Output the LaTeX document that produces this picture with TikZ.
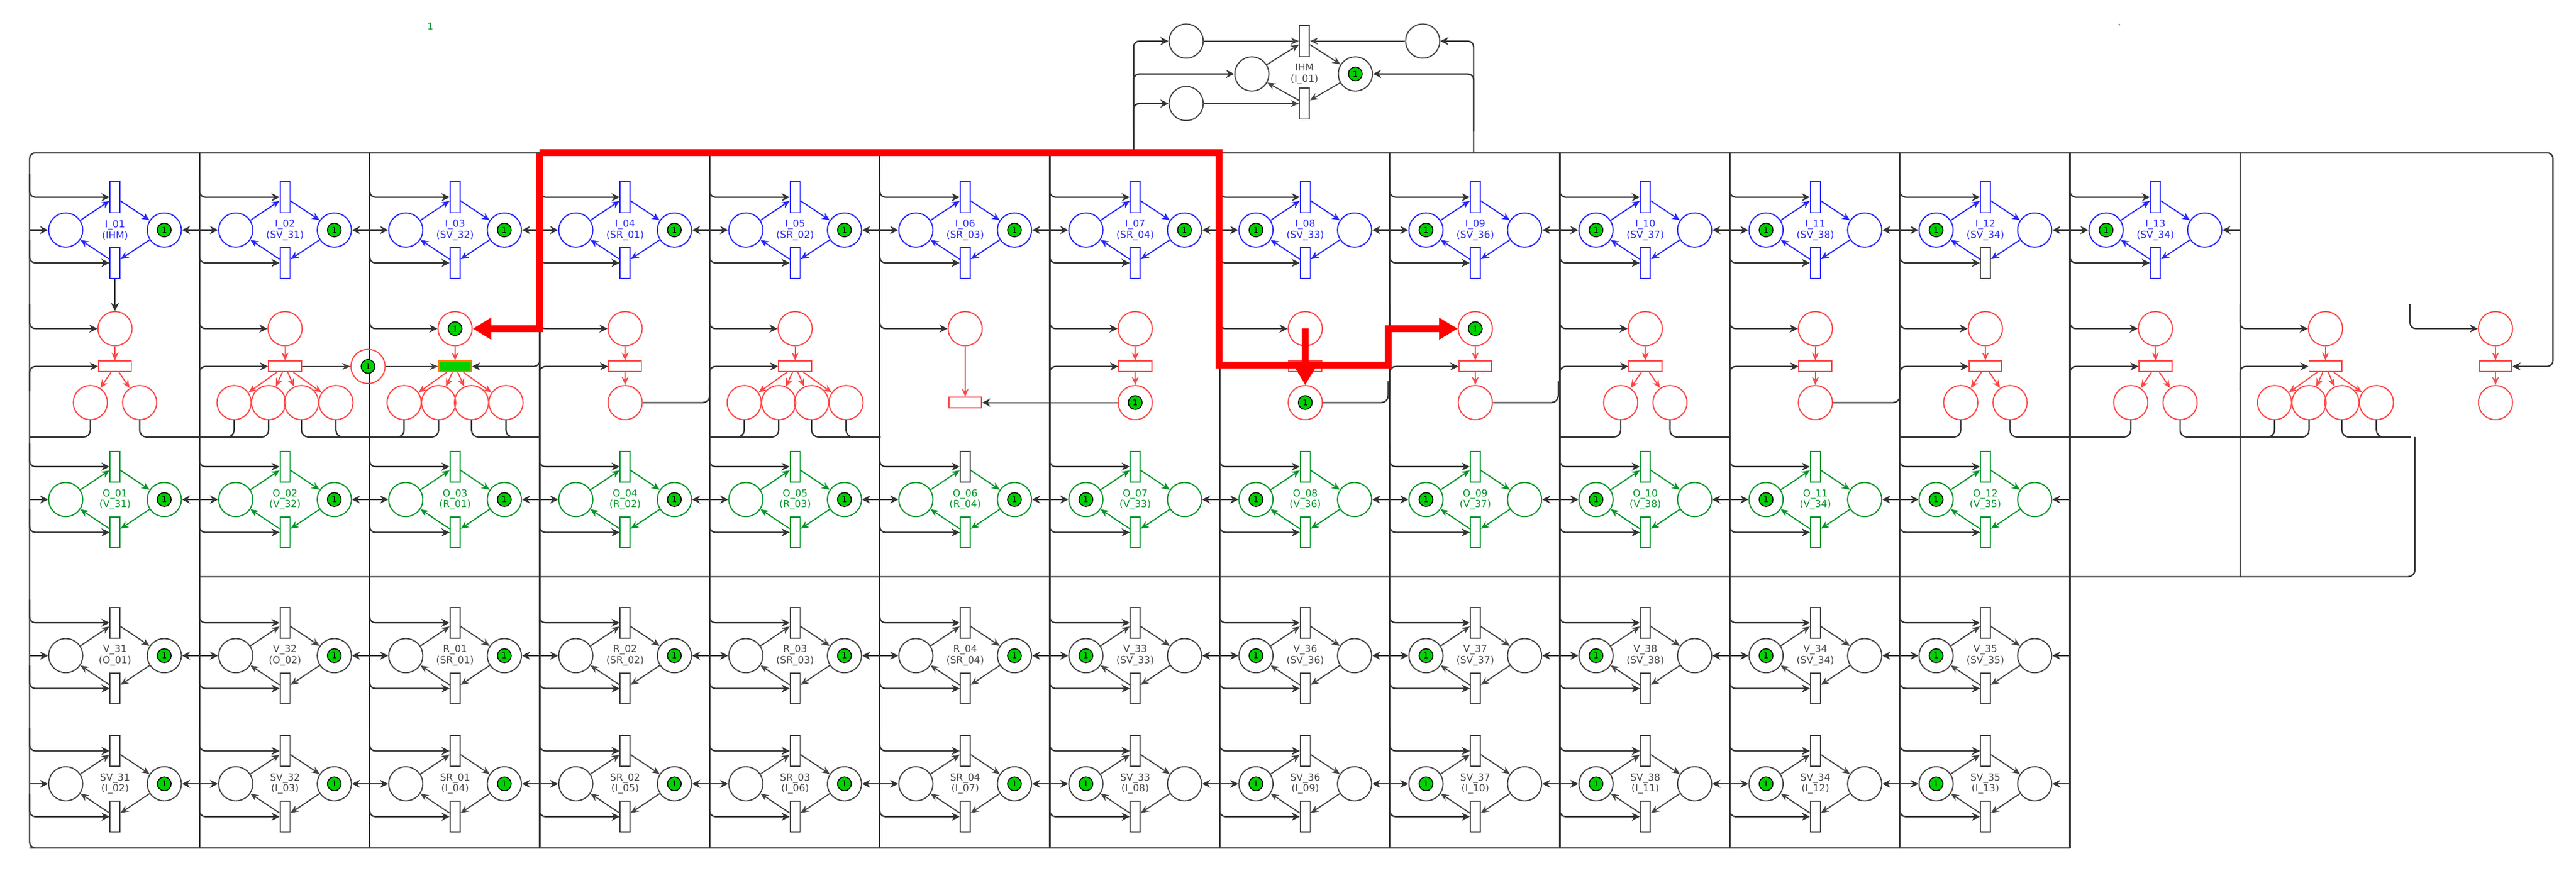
\documentclass[tikz,border=0pt]{standalone}
\usepackage{fontspec}
\setmainfont{DejaVu Sans}
\usetikzlibrary{arrows.meta}
\definecolor{bluepn}{RGB}{40,40,255}
\definecolor{redpn}{RGB}{255,70,70}
\definecolor{greenpn}{RGB}{0,150,40}
\definecolor{graypn}{RGB}{70,70,70}
\definecolor{tokgreen}{RGB}{0,210,0}
\tikzset{
  pl/.style={circle, draw=#1, minimum size=0.52cm, inner sep=0, line width=0.5pt},
  tr/.style={rectangle, draw=#1, fill=white, minimum width=0.15cm, minimum height=0.47cm, inner sep=0, line width=0.5pt},
  rtr/.style={rectangle, draw=redpn, fill=white, minimum width=0.5cm, minimum height=0.16cm, inner sep=0, line width=0.5pt},
  tok/.style={circle, draw=black, fill=tokgreen, minimum size=0.21cm, inner sep=0, font=\fontsize{3.5}{3.5}\selectfont},
  lbl/.style={text=#1, align=center, font=\fontsize{4.2}{4.8}\selectfont, inner sep=0},
  flow/.style={draw=#1, line width=0.5pt, -{Stealth[length=3.5pt,width=3pt]}},
  wire/.style={draw=black!80, line width=0.6pt, rounded corners=2.5pt, -{Stealth[length=3.5pt,width=3.5pt]}},
  frame/.style={draw=black!80, line width=0.6pt, rounded corners=3pt},
  hot/.style={draw=red, line width=3pt, -{Triangle[length=8pt,width=9pt]}},
}
% one place/transition module: x, y, name, sub-name, colour, node prefix, token side
\newcommand{\pncell}[7]{%
  \node[pl=#5] (#6L) at ({#1-30},#2) {};
  \node[pl=#5] (#6R) at ({#1+30},#2) {};
  \node[tr=#5] (#6t) at (#1,{#2-20}) {};
  \node[tr=#5] (#6b) at (#1,{#2+20}) {};
  \node[lbl=#5] (#6n) at (#1,#2) {#3\\(#4)};
  \node[tok] (#6k) at (#6#7) {1};
  \draw[flow=#5] (#6L) -- (#6t);
  \draw[flow=#5] (#6t) -- (#6R);
  \draw[flow=#5] (#6R) -- (#6b);
  \draw[flow=#5] (#6b) -- (#6L);
  \coordinate (#6w) at ({#1-52},#2);
  \coordinate (#6e) at ({#1+52},#2);
  \draw[wire] (#6w) -- (#6L);
  \draw[wire] (#6e) -- (#6R);
  \draw[wire] ({#1-52},{#2-34}) |- (#6t);
  \draw[wire] ({#1-52},{#2+6}) |- (#6b);
}
\begin{document}
\begin{tikzpicture}[x=0.025cm,y=-0.025cm]
\useasboundingbox (0,0) rectangle (1568,534);

% frame lines
\foreach \k in {2,...,13}{
  \pgfmathsetmacro\bx{18+103.5*(\k-1)}
  \draw[frame] (\bx,93) -- (\bx,516);
}
\draw[frame] (1363.5,93) -- (1363.5,351);
\draw[frame] (121.5,351) -| (1470,266);
\draw[frame] (18,516) -- (1260,516);

% IHM module
\node[tr=graypn] (ht) at (794,25) {};
\node[tr=graypn] (hb) at (794,63) {};
\node[pl=graypn] (hm) at (762,45) {};
\node[pl=graypn] (hk) at (825,45) {};
\node[tok] at (hk) {1};
\node[pl=graypn] (ha) at (722,25) {};
\node[pl=graypn] (hc) at (722,63) {};
\node[pl=graypn] (hd) at (866,25) {};
\node[lbl=graypn] (hn) at (794,45) {IHM\\(I\_01)};
\draw[flow=graypn] (hm) -- (ht);
\draw[flow=graypn] (ht) -- (hk);
\draw[flow=graypn] (hk) -- (hb);
\draw[flow=graypn] (hb) -- (hm);
\draw[flow=graypn] (ha) -- (ht);
\draw[flow=graypn] (hc) -- (hb);
\draw[flow=graypn] (hd) -- (ht);
\draw[wire] (690,93) |- (ha);
\draw[wire] (690,70) |- (hm);
\draw[wire] (690,80) |- (hc);
\draw[wire] (897,93) |- (hd);
\draw[wire] (897,80) |- (hk);

% input modules
\foreach \n/\lab/\sub/\s in {1/I\_01/IHM/R, 2/I\_02/SV\_31/R, 3/I\_03/SV\_32/R,
    4/I\_04/SR\_01/R, 5/I\_05/SR\_02/R, 6/I\_06/SR\_03/R, 7/I\_07/SR\_04/R,
    8/I\_08/SV\_33/L, 9/I\_09/SV\_36/L, 10/I\_10/SV\_37/L, 11/I\_11/SV\_38/L,
    12/I\_12/SV\_34/L, 13/I\_13/SV\_34/L}{
  \pgfmathsetmacro\cx{70+103.5*(\n-1)}
  \pncell{\cx}{140}{\lab}{\sub}{bluepn}{i\n}{\s}
}
\node[tr=graypn] at (i12b) {};

% output modules
\foreach \n/\lab/\sub/\s in {1/O\_01/V\_31/R, 2/O\_02/V\_32/R, 3/O\_03/R\_01/R,
    4/O\_04/R\_02/R, 5/O\_05/R\_03/R, 6/O\_06/R\_04/R, 7/O\_07/V\_33/L,
    8/O\_08/V\_36/L, 9/O\_09/V\_37/L, 10/O\_10/V\_38/L, 11/O\_11/V\_34/L,
    12/O\_12/V\_35/L}{
  \pgfmathsetmacro\cx{70+103.5*(\n-1)}
  \pncell{\cx}{304}{\lab}{\sub}{greenpn}{o\n}{\s}
}
\node[tr=graypn] at (o6t) {};

% actuator modules
\foreach \n/\lab/\sub/\s in {1/V\_31/O\_01/R, 2/V\_32/O\_02/R, 3/R\_01/SR\_01/R,
    4/R\_02/SR\_02/R, 5/R\_03/SR\_03/R, 6/R\_04/SR\_04/R, 7/V\_33/SV\_33/L,
    8/V\_36/SV\_36/L, 9/V\_37/SV\_37/L, 10/V\_38/SV\_38/L, 11/V\_34/SV\_34/L,
    12/V\_35/SV\_35/L}{
  \pgfmathsetmacro\cx{70+103.5*(\n-1)}
  \pncell{\cx}{399}{\lab}{\sub}{graypn}{v\n}{\s}
}

% sensor modules
\foreach \n/\lab/\sub/\s in {1/SV\_31/I\_02/R, 2/SV\_32/I\_03/R, 3/SR\_01/I\_04/R,
    4/SR\_02/I\_05/R, 5/SR\_03/I\_06/R, 6/SR\_04/I\_07/R, 7/SV\_33/I\_08/L,
    8/SV\_36/I\_09/L, 9/SV\_37/I\_10/L, 10/SV\_38/I\_11/L, 11/SV\_34/I\_12/L,
    12/SV\_35/I\_13/L}{
  \pgfmathsetmacro\cx{70+103.5*(\n-1)}
  \pncell{\cx}{477}{\lab}{\sub}{graypn}{s\n}{\s}
}

% control layer
\foreach \n/\offs/\tt/\bt in {1/{-15,15}/0/0, 2/{-31,-10,10,31}/0/0, 3/{-31,-10,10,31}/1/0,
    4/{0}/0/0, 5/{-31,-10,10,31}/0/0, 7/{0}/0/1, 8/{0}/0/1, 9/{0}/1/0,
    10/{-15,15}/0/0, 11/{0}/0/0, 12/{-15,15}/0/0, 13/{-15,15}/0/0,
    14/{-31,-10,10,31}/0/0, 15/{0}/0/0}{
  \pgfmathsetmacro\cx{70+103.5*(\n-1)}
  \node[pl=redpn] (r\n p) at (\cx,200) {};
  \node[rtr] (r\n t) at (\cx,223) {};
  \draw[flow=redpn] (r\n p) -- (r\n t);
  \ifnum\tt=1 \node[tok] at (r\n p) {1}; \fi
  \foreach \o [count=\i] in \offs{
    \node[pl=redpn] (r\n q\i) at (\cx+\o,245) {};
    \draw[flow=redpn] (r\n t) -- (r\n q\i);
    \ifnum\bt=1 \node[tok] at (r\n q\i) {1}; \fi
    \ifnum\o=0 \else
      \pgfmathsetmacro\bx{\cx+((\o<0)?-52:52)}
      \draw[frame] (r\n q\i.south) |- (\bx,266);
    \fi
  }
  \draw[wire] (\cx-52,185) |- (r\n p);
}
\foreach \n in {1,2,4,5,7,9,10,11,12,13,14}{
  \pgfmathsetmacro\cx{70+103.5*(\n-1)}
  \draw[wire] (\cx-52,238) |- (r\n t);
}
\pgfmathsetmacro\cx{70+103.5*5}
\node[pl=redpn] (r6p) at (\cx,200) {};
\node[rtr] (r6t) at (\cx,245) {};
\draw[flow=redpn] (r6p) -- (r6t);
\draw[wire] (\cx-52,185) |- (r6p);
\draw[wire] (r7q1) -- (r6t);
\node[pl=redpn] (rx) at (224,223) {};
\node[tok] at (rx) {1};
\draw[flow=graypn] (r2t) -- (rx);
\draw[flow=graypn] (rx) -- (r3t);
\node[rtr, fill=tokgreen, draw=orange] at (r3t) {};
\draw[wire] (328.5,210) |- (r3t);
\draw[frame] (r4q1) -| (432,235);
\draw[frame] (r8q1) -| (845,232);
\draw[frame] (r9q1) -| (948.5,232);
\draw[frame] (r11q1) -| (1156.5,232);
\draw[wire] (i1b) -- (r1p);

% outer frame
\draw[wire] (1260,516) -| (18,93) -| (1554,150) |- (r15t);

% highlighted path
\draw[hot] (328.5,93) |- (r3p);
\draw[hot] (328.5,93) -- (742,93) -- (742,222) -- (845,222) |- (r9p);
\draw[hot] (r8p.center) -- (r8q1);

\node[text=greenpn, font=\fontsize{4}{4}\selectfont] (mk) at (262,16) {1};
\fill[black!60] (1290,15) circle (0.6);
\end{tikzpicture}
\end{document}
